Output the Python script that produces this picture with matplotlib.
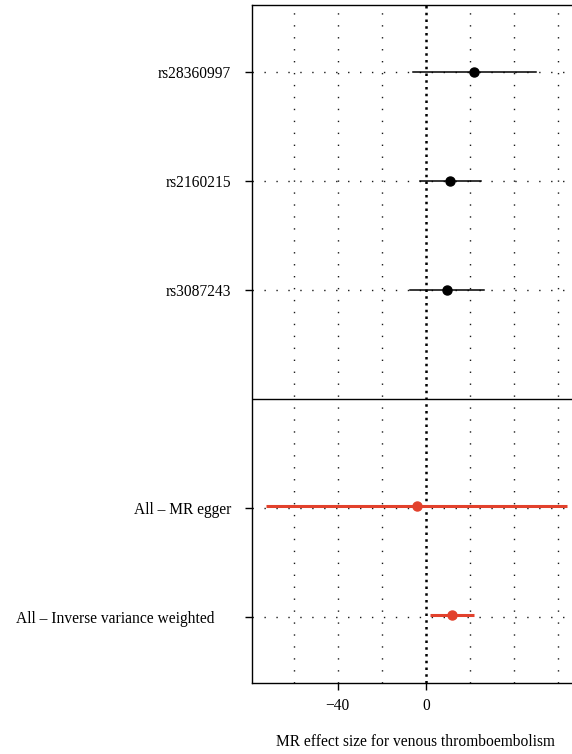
import matplotlib.pyplot as plt
import matplotlib.transforms as mtransforms

plt.rcParams['font.family'] = ['Liberation Serif', 'DejaVu Serif']

# SNP-level and pooled MR estimates with confidence bounds
snp_names = ['rs28360997', 'rs2160215', 'rs3087243']
snp_est = [22.0, 10.9, 9.7]
snp_lo = [-5.8, -2.7, -7.0]
snp_hi = [49.9, 24.9, 26.4]

method_names = ['All \u2013 MR egger', 'All \u2013 Inverse variance weighted']
method_est = [-4.2, 11.8]
method_lo = [-72.7, 1.8]
method_hi = [64.0, 22.0]

x_ticks = [-40, 0]
x_grid = [-60, -40, -20, 20, 40, 60]
x_label = 'MR effect size for venous thromboembolism'

red = '#E2412C'

fig = plt.figure(figsize=(5.72, 7.54), dpi=100)
ax = fig.add_axes([252 / 572, 1 - 683 / 754, 1 - 252 / 572, (683 - 5) / 754])

snp_y = [6, 5, 4]
method_y = [2, 1]
all_y = snp_y + method_y

# dotted background grid
for gx in x_grid:
    ax.axvline(gx, color='0.1', lw=1.0, ls=(0, (1, 7.6)), zorder=0)
for gy in all_y:
    ax.axhline(gy, color='0.1', lw=1.0, ls=(0, (1, 7.6)), zorder=0)
ax.axvline(0, color='black', lw=1.8, ls=(0, (1, 1.7)), zorder=1)
ax.axhline(3, color='black', lw=1.0, zorder=2)

for y, e, lo, hi in zip(snp_y, snp_est, snp_lo, snp_hi):
    ax.plot([lo, hi], [y, y], color='black', lw=1.1, zorder=3)
    ax.plot(e, y, 'o', color='black', ms=6.5, zorder=4)

for y, e, lo, hi in zip(method_y, method_est, method_lo, method_hi):
    ax.plot([lo, hi], [y + 0.015, y + 0.015], color=red, lw=2.2, zorder=3,
            solid_capstyle='butt')
    ax.plot(e, y + 0.015, 'o', color=red, ms=6.5, zorder=4)

ax.set_xlim(-79, 66.4)
ax.set_ylim(0.394, 6.615)
ax.set_xticks(x_ticks)
ax.set_xticklabels(['\u221240', '0'])
ax.set_yticks(all_y)
ax.set_yticklabels(snp_names + method_names)
ax.tick_params(axis='both', direction='out', length=5, width=1, labelsize=11.2,
               pad=10)
ax.tick_params(axis='x', pad=6)
ax.spines['right'].set_visible(False)
for s in ['left', 'top', 'bottom']:
    ax.spines[s].set_linewidth(1.0)

# the long method label sits a little further left
last = ax.get_yticklabels()[-1]
last.set_transform(last.get_transform() +
                   mtransforms.ScaledTranslation(-0.17, 0, fig.dpi_scale_trans))

fig.text(415 / 572, 1 - 742 / 754, x_label, ha='center', va='center', fontsize=11.2)

fig.savefig('out.png', dpi=100)
